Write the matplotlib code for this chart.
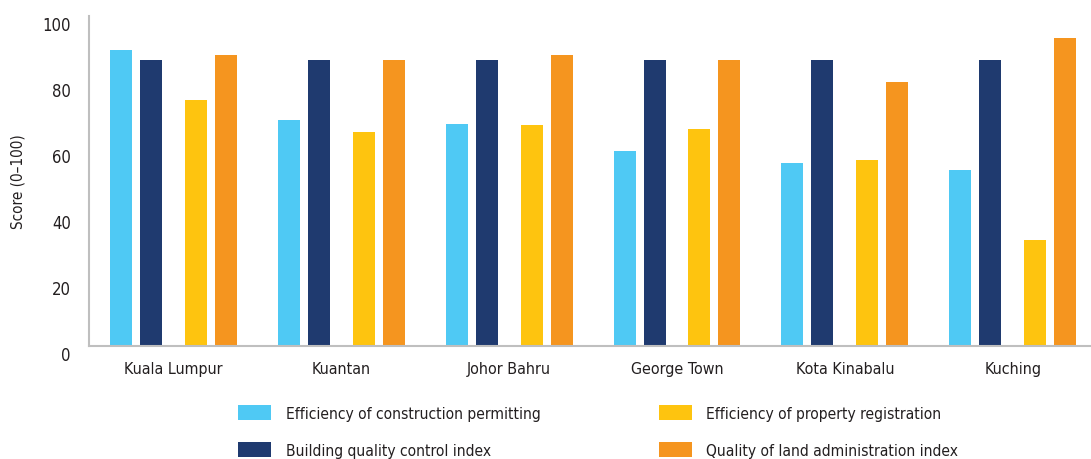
import matplotlib.pyplot as plt
import numpy as np

cities = ['Kuala Lumpur', 'Kuantan', 'Johor Bahru', 'George Town', 'Kota Kinabalu', 'Kuching']
construction_permitting = [89.7, 68.5, 67.3, 59.1, 55.5, 53.3]
building_quality = [86.7, 86.7, 86.7, 86.7, 86.7, 86.7]
property_registration = [74.5, 64.8, 67.0, 65.8, 56.4, 32.1]
land_administration = [88.2, 86.7, 88.2, 86.7, 80.0, 93.3]

series = [
    ('Efficiency of construction permitting', construction_permitting, '#4FC9F4'),
    ('Building quality control index', building_quality, '#1F3A6F'),
    ('Efficiency of property registration', property_registration, '#FEC40F'),
    ('Quality of land administration index', land_administration, '#F5951F'),
]
offsets = [-0.3125, -0.134, 0.134, 0.3125]
width = 0.131
text_color = '#231F20'

plt.rcParams['font.family'] = ['DejaVu Sans']
plt.rcParams['font.stretch'] = 'condensed'

fig = plt.figure(figsize=(10.91, 4.6), dpi=100)
ax = fig.add_axes([0.0816, 0.2457, 0.9174, 0.7173])

x = np.arange(len(cities))
handles = []
for (label, values, color), off in zip(series, offsets):
    h = ax.bar(x + off, values, width=width, color=color, label=label)
    handles.append(h)

ax.set_xlim(-0.503, 5.46)
ax.set_ylim(0, 100)
ax.set_yticks(range(0, 101, 20))
ax.set_xticks(x)
ax.set_xticklabels(cities, fontsize=11.5, color=text_color)
ax.tick_params(axis='y', labelsize=12, labelcolor=text_color, length=0, pad=13)
ax.tick_params(axis='x', length=0, pad=11)
for lbl in ax.get_yticklabels():
    lbl.set_verticalalignment('top')
ax.set_ylabel('Score (0–100)', fontsize=11, color=text_color, labelpad=12)

for side in ['top', 'right']:
    ax.spines[side].set_visible(False)
for side in ['left', 'bottom']:
    ax.spines[side].set_color('#BFBFBF')
    ax.spines[side].set_linewidth(1.5)

fig.legend(handles=handles, ncol=2, loc='upper left', bbox_to_anchor=(0.218, 0.118),
           frameon=False, fontsize=11.2, handlelength=2.15, handleheight=1.15,
           handletextpad=0.92, labelspacing=1.35, columnspacing=7.6,
           borderaxespad=0, borderpad=0, labelcolor=text_color)

fig.savefig('out.png', dpi=100)
